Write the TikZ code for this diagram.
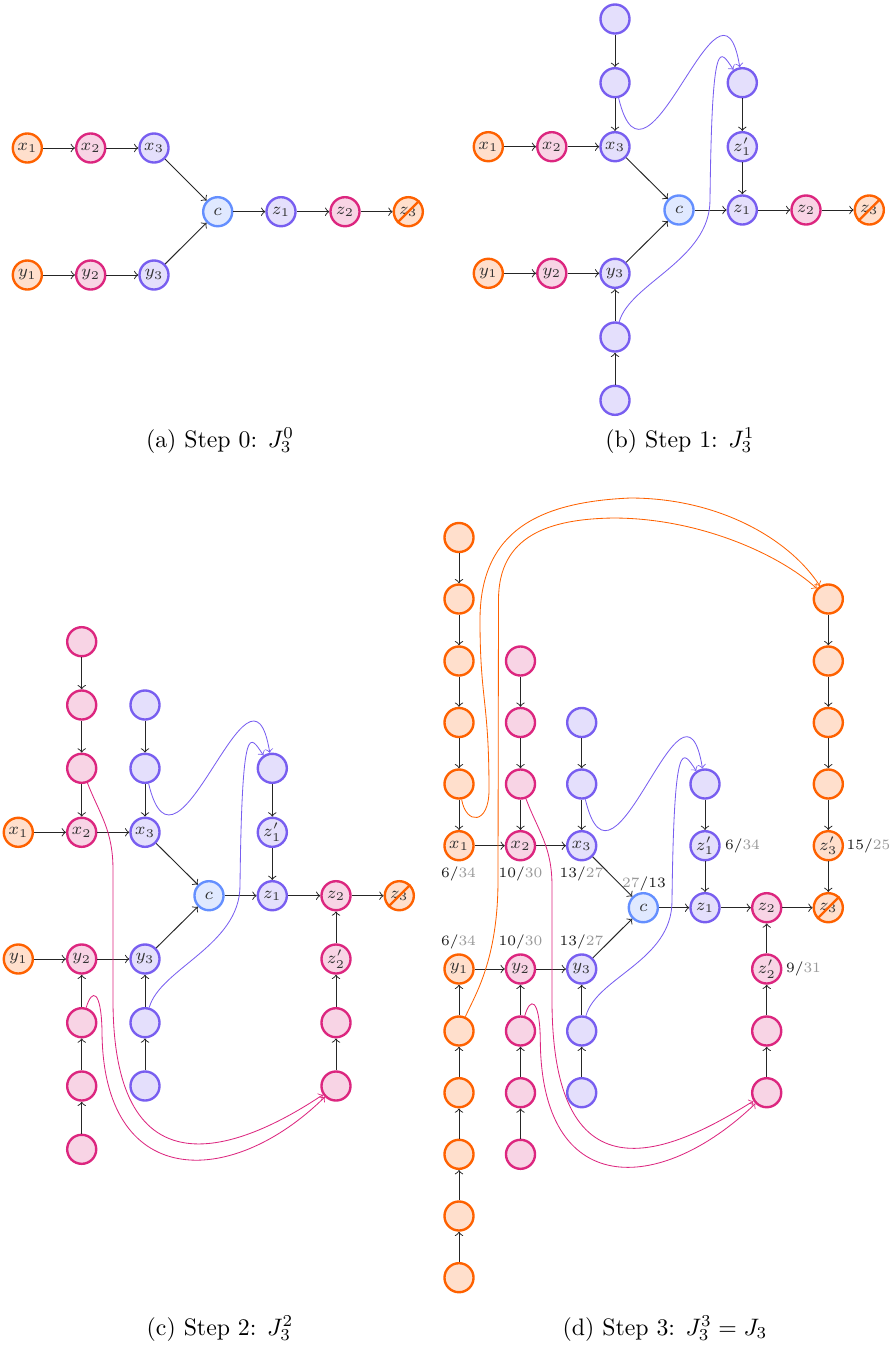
\documentclass[tikz,border=0pt]{standalone}
\usetikzlibrary{calc}
\definecolor{cor}{HTML}{FE6100}
\definecolor{cpk}{HTML}{DC267F}
\definecolor{cpu}{HTML}{785EF0}
\definecolor{cbl}{HTML}{648FFF}
\newcommand\mylab[2]{#1/{\color{black!40}#2}}
\begin{document}
\begin{tikzpicture}[x=0.42pt,y=-0.42pt,
  nd/.style={circle,minimum size=12.2pt,inner sep=0pt,line width=1pt,font=\scriptsize,text=black!80},
  org/.style={nd,draw=cor,fill=cor!20},
  pnk/.style={nd,draw=cpk,fill=cpk!20},
  pur/.style={nd,draw=cpu,fill=cpu!20},
  blu/.style={nd,draw=cbl,fill=cbl!20},
  ed/.style={->,draw=black!85,line width=0.4pt},
  cv/.style={->,line width=0.35pt},
  strike/.style={draw=cor,line width=1pt},
  lab/.style={font=\fontsize{6}{7}\selectfont,inner sep=0pt,text=black!90},
  captxt/.style={anchor=base,font=\normalsize}]
\useasboundingbox (0,0) rectangle (888,1357);

% ---------------- (a)
\node[org] (ax1) at (27.3,148) {$x_1$};
\node[pnk] (ax2) at (90.7,148) {$x_2$};
\node[pur] (ax3) at (154,148) {$x_3$};
\node[org] (ay1) at (27.3,275) {$y_1$};
\node[pnk] (ay2) at (90.7,275) {$y_2$};
\node[pur] (ay3) at (154,275) {$y_3$};
\node[blu] (ac) at (217.7,211.7) {$c$};
\node[pur] (az1) at (281,211.7) {$z_1$};
\node[pnk] (az2) at (345,211.7) {$z_2$};
\node[org] (az3) at (408.3,211.7) {$z_3$};
\draw[strike] (az3.-135) -- (az3.45);
\foreach \a/\b in {ax1/ax2,ax2/ax3,ax3/ac,ay1/ay2,ay2/ay3,ay3/ac,ac/az1,az1/az2,az2/az3}
  \draw[ed] (\a) -- (\b);
\node[captxt] (capa) at (220,447) {(a) Step 0: $J_3^0$};

% ---------------- (b)
\node[org] (bx1) at (488.3,146.7) {$x_1$};
\node[pnk] (bx2) at (551.8,146.7) {$x_2$};
\node[pur] (bx3) at (615,146.7) {$x_3$};
\node[pur] (bt1) at (615,19) {};
\node[pur] (bt2) at (615,82.7) {};
\node[org] (by1) at (488.3,273.3) {$y_1$};
\node[pnk] (by2) at (551.8,273.3) {$y_2$};
\node[pur] (by3) at (615,273.3) {$y_3$};
\node[pur] (bb1) at (615,337) {};
\node[pur] (bb2) at (615,400.3) {};
\node[blu] (bc) at (679,210) {$c$};
\node[pur] (bz1) at (742.3,210) {$z_1$};
\node[pur] (bz1p) at (742.3,146.7) {$z'_1$};
\node[pur] (br1) at (742.3,82.7) {};
\node[pnk] (bz2) at (806,210) {$z_2$};
\node[org] (bz3) at (869.3,210) {$z_3$};
\draw[strike] (bz3.-135) -- (bz3.45);
\foreach \a/\b in {bx1/bx2,bx2/bx3,bx3/bc,by1/by2,by2/by3,by3/bc,bc/bz1,bz1/bz2,bz2/bz3,
  bt1/bt2,bt2/bx3,bb2/bb1,bb1/by3,br1/bz1p,bz1p/bz1}
  \draw[ed] (\a) -- (\b);
\draw[cv,cpu] (bt2) .. controls (647,217.7) and (720.3,-52.3) .. (br1);
\draw[cv,cpu] (bb1) .. controls (630,283) and (710,260) .. (710,200)
  .. controls (712,30) and (720,50) .. (br1);
\node[captxt] (capb) at (680,447) {(b) Step 1: $J_3^1$};

% ---------------- (c)
\node[org] (cx1) at (18.3,832.3) {$x_1$};
\node[pnk] (cx2) at (81.7,832.3) {$x_2$};
\node[pur] (cx3) at (145,832.3) {$x_3$};
\node[pnk] (cp1) at (81.7,641.7) {};
\node[pnk] (cp2) at (81.7,705) {};
\node[pnk] (cp3) at (81.7,768.3) {};
\node[pur] (cq1) at (145,705) {};
\node[pur] (cq2) at (145,768.3) {};
\node[pur] (cr1) at (272.3,768.3) {};
\node[pur] (cz1p) at (272.3,832.3) {$z'_1$};
\node[blu] (cc) at (209,895.7) {$c$};
\node[pur] (cz1) at (272.3,895.7) {$z_1$};
\node[pnk] (cz2) at (336,895.7) {$z_2$};
\node[org] (cz3) at (399.3,895.7) {$z_3$};
\draw[strike] (cz3.-135) -- (cz3.45);
\node[org] (cy1) at (18.3,959) {$y_1$};
\node[pnk] (cy2) at (81.7,959) {$y_2$};
\node[pur] (cy3) at (145,959) {$y_3$};
\node[pnk] (cz2p) at (336,959) {$z'_2$};
\node[pnk] (cp4) at (81.7,1022.7) {};
\node[pnk] (cp5) at (81.7,1086) {};
\node[pnk] (cp6) at (81.7,1149.3) {};
\node[pur] (cq3) at (145,1022.7) {};
\node[pur] (cq4) at (145,1086) {};
\node[pnk] (cs1) at (336,1022.7) {};
\node[pnk] (cs2) at (336,1086) {};
\foreach \a/\b in {cp1/cp2,cp2/cp3,cp3/cx2,cq1/cq2,cq2/cx3,cx1/cx2,cx2/cx3,cx3/cc,
  cr1/cz1p,cz1p/cz1,cc/cz1,cz1/cz2,cz2/cz3,cy1/cy2,cy2/cy3,cy3/cc,
  cp6/cp5,cp5/cp4,cp4/cy2,cq4/cq3,cq3/cy3,cs2/cs1,cs1/cz2p,cz2p/cz2}
  \draw[ed] (\a) -- (\b);
\draw[cv,cpu] (cq2) .. controls (177,903.3) and (250.3,633.3) .. (cr1);
\draw[cv,cpu] (cq3) .. controls (160,968.6) and (240,945.6) .. (240,885.6)
  .. controls (242,715.6) and (250,735.6) .. (cr1);
\draw[cv,cpk] (cp3) .. controls (100,815) and (113,830) .. (113,870) -- (113,1000)
  .. controls (113,1200) and (240,1150) .. (cs2);
\draw[cv,cpk] (cp4) .. controls (92,988) and (101,990) .. (102,1030)
  .. controls (102,1190) and (230,1190) .. (cs2);
\node[captxt] (capc) at (220,1335) {(c) Step 2: $J_3^2$};

% ---------------- (d)
\node[org] (dx1) at (459,845.7) {$x_1$};
\node[pnk] (dx2) at (520.5,845.7) {$x_2$};
\node[pur] (dx3) at (581.7,845.7) {$x_3$};
\foreach \i/\y in {1/537.5,2/599,3/661,4/722.5,5/784}
  \node[org] (do\i) at (459,\y) {};
\foreach \i/\y in {1/661,2/722.5,3/784}
  \node[pnk] (dp\i) at (520.5,\y) {};
\foreach \i/\y in {1/722.5,2/784}
  \node[pur] (dq\i) at (581.7,\y) {};
\node[pur] (dr1) at (705,784) {};
\node[pur] (dz1p) at (705,845.7) {$z'_1$};
\foreach \i/\y in {1/599,2/661,3/722.5,4/784}
  \node[org] (dt\i) at (828.3,\y) {};
\node[org] (dz3p) at (828.3,845.7) {$z'_3$};
\node[blu] (dc) at (643.3,907.7) {$c$};
\node[pur] (dz1) at (705,907.7) {$z_1$};
\node[pnk] (dz2) at (766.7,907.7) {$z_2$};
\node[org] (dz3) at (828.3,907.7) {$z_3$};
\draw[strike] (dz3.-135) -- (dz3.45);
\node[org] (dy1) at (459,969) {$y_1$};
\node[pnk] (dy2) at (520.5,969) {$y_2$};
\node[pur] (dy3) at (581.7,969) {$y_3$};
\node[pnk] (dz2p) at (766.7,969) {$z'_2$};
\foreach \i/\y in {6/1031,7/1092.7,8/1154.3,9/1216,10/1277.7}
  \node[org] (do\i) at (459,\y) {};
\foreach \i/\y in {4/1031,5/1092.7,6/1154.3}
  \node[pnk] (dp\i) at (520.5,\y) {};
\foreach \i/\y in {3/1031,4/1092.7}
  \node[pur] (dq\i) at (581.7,\y) {};
\node[pnk] (ds1) at (766.7,1031) {};
\node[pnk] (ds2) at (766.7,1092.7) {};
\foreach \a/\b in {do1/do2,do2/do3,do3/do4,do4/do5,do5/dx1,dp1/dp2,dp2/dp3,dp3/dx2,
  dq1/dq2,dq2/dx3,dr1/dz1p,dz1p/dz1,dt1/dt2,dt2/dt3,dt3/dt4,dt4/dz3p,dz3p/dz3,
  dx1/dx2,dx2/dx3,dx3/dc,dy1/dy2,dy2/dy3,dy3/dc,dc/dz1,dz1/dz2,dz2/dz3,
  do10/do9,do9/do8,do8/do7,do7/do6,do6/dy1,dp6/dp5,dp5/dp4,dp4/dy2,
  dq4/dq3,dq3/dy3,ds2/ds1,ds1/dz2p,dz2p/dz2}
  \draw[ed] (\a) -- (\b);
\draw[cv,cpu] (dq2) .. controls (613.7,919) and (683,649) .. (dr1);
\draw[cv,cpu] (dq3) .. controls (596.7,977) and (672,961) .. (672,901)
  .. controls (674,731) and (683,751) .. (dr1);
\draw[cv,cpk] (dp3) .. controls (538,831) and (552,846) .. (552,886) -- (552,1000)
  .. controls (552,1210) and (675,1150) .. (ds2);
\draw[cv,cpk] (dp4) .. controls (530.3,996.3) and (539.3,998.3) .. (540.3,1038.3)
  .. controls (540.3,1200) and (660,1195) .. (ds2);
\draw[cv,cor] (do5) .. controls (466,825) and (489,825) .. (489,790)
  .. controls (489,700) and (480,700) .. (480,620)
  .. controls (480,530) and (540,502) .. (630,498)
  .. controls (720,498) and (790,540) .. (dt1);
\draw[cv,cor] (do6) .. controls (475,995) and (498,960) .. (498,880) -- (498.5,600)
  .. controls (498.5,535) and (550,519) .. (613,518)
  .. controls (700,518) and (780,555) .. (dt1);
% labels
\node[lab] (lx1) at (458.5,874) {\mylab{6}{34}};
\node[lab] (lx2) at (520.5,874) {\mylab{10}{30}};
\node[lab] (lx3) at (581.5,874) {\mylab{13}{27}};
\node[lab] (lc) at (644,884) {{\color{black!40}27}/13};
\node[lab] (lz1p) at (742.5,845.7) {\mylab{6}{34}};
\node[lab] (lz3p) at (868.5,845.7) {\mylab{15}{25}};
\node[lab] (ly1) at (458.5,942) {\mylab{6}{34}};
\node[lab] (ly2) at (520.5,942) {\mylab{10}{30}};
\node[lab] (ly3) at (581.5,942) {\mylab{13}{27}};
\node[lab] (lz2p) at (803.5,969) {\mylab{9}{31}};
\node[captxt] (capd) at (665,1335) {(d) Step 3: $J_3^3 = J_3$};
\end{tikzpicture}
\end{document}
